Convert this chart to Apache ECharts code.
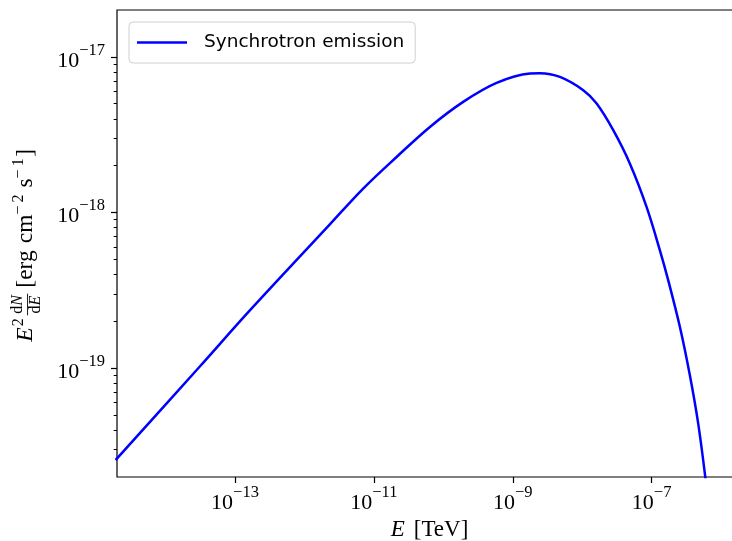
<!DOCTYPE html>
<html>
<head>
<meta charset="utf-8">
<script src="https://cdn.jsdelivr.net/npm/echarts@6/dist/echarts.min.js"></script>
<style>
html, body { margin: 0; padding: 0; background: #fff; }
#chart { width: 732px; height: 541px; }
</style>
</head>
<body>
<div id="chart"></div>
<script>
// photon energy [TeV]
const energy = [
  1.905e-15, 3.162e-14, 1.637e-13, 2.323e-12, 7.015e-12, 2.123e-11,
  6.412e-11, 1.932e-10, 5.848e-10, 1.766e-9, 2.460e-9, 4.775e-9,
  1.035e-8, 1.614e-8, 2.799e-8, 4.864e-8, 8.472e-8, 1.315e-7,
  1.734e-7, 2.553e-7, 3.556e-7, 4.688e-7, 6.053e-7
]
// E^2 dN/dE [erg cm^-2 s^-1]
const flux = [
  2.570e-20, 1.033e-19, 2.350e-19, 8.395e-19, 1.426e-18, 2.275e-18,
  3.548e-18, 5.140e-18, 6.808e-18, 7.816e-18, 7.852e-18, 7.430e-18,
  6.109e-18, 5.012e-18, 3.381e-18, 2.061e-18, 1.084e-18, 5.715e-19,
  3.664e-19, 1.837e-19, 8.970e-20, 4.385e-20, 1.841e-20
]
const xTicks = [1e-13, 1e-11, 1e-9, 1e-7]
const yTicks = [1e-19, 1e-18, 1e-17]
const yMinorTicks = [
  3e-20, 4e-20, 5e-20, 6e-20, 7e-20, 8e-20, 9e-20,
  2e-19, 3e-19, 4e-19, 5e-19, 6e-19, 7e-19, 8e-19, 9e-19,
  2e-18, 3e-18, 4e-18, 5e-18, 6e-18, 7e-18, 8e-18, 9e-18
]
const seriesName = 'Synchrotron emission'

const SERIF = 'Liberation Serif'
const powRich = {
  b: { fontFamily: SERIF, fontSize: 22, color: '#000', lineHeight: 30, verticalAlign: 'bottom' },
  s: { fontFamily: SERIF, fontSize: 16.5, color: '#000', lineHeight: 19, verticalAlign: 'top' }
}
const powLabel = v => {
  const e = Math.round(Math.log10(v))
  return '{b|10}{s|' + (e < 0 ? '\u2212' : '') + Math.abs(e) + '}'
}

// --- y axis title, laid out token by token and rotated ---
const meas = document.createElement('canvas').getContext('2d')
const tw = (t, size, italic) => {
  meas.font = (italic ? 'italic ' : '') + size + 'px "' + SERIF + '"'
  return meas.measureText(t).width
}
const tok = (t, x, rise, size, italic) => ({
  type: 'text', x: x, y: -rise - 0.3375 * size,
  style: {
    text: t, fontFamily: SERIF, fontSize: size,
    fontStyle: italic ? 'italic' : 'normal',
    fill: '#000', align: 'left', verticalAlign: 'middle'
  }
})

const M = 23.5, S = 16, F = 16
const parts = []
let cx = -98.3
parts.push(tok('E', cx, 0, M, true)); cx += tw('E', M, true) + 1
parts.push(tok('2', cx, 9, S)); cx += tw('2', S) + 3
const wN = tw('d', F) + tw('N', F, true)
const wD = tw('d', F) + tw('E', F, true)
const wF = Math.max(wN, wD) + 3
const fc = cx + wF / 2
parts.push(tok('d', fc - wN / 2, 10, F)); parts.push(tok('N', fc - wN / 2 + tw('d', F), 10, F, true))
parts.push(tok('d', fc - wD / 2, -8, F)); parts.push(tok('E', fc - wD / 2 + tw('d', F), -8, F, true))
parts.push({ type: 'line', shape: { x1: cx, y1: -5.75, x2: cx + wF, y2: -5.75 }, style: { stroke: '#000', lineWidth: 0.9 } })
cx += wF + 6
parts.push(tok('[erg', cx, 0, M)); cx += tw('[erg', M) + 7
parts.push(tok('cm', cx, 0, M)); cx += tw('cm', M)
parts.push(tok('\u2212', cx, 9, S)); cx += tw('\u2212', S) + 3
parts.push(tok('2', cx, 9, S)); cx += tw('2', S) + 7
parts.push(tok('s', cx, 0, M)); cx += tw('s', M)
parts.push(tok('\u2212', cx, 9, S)); cx += tw('\u2212', S) + 3
parts.push(tok('1', cx, 9, S)); cx += tw('1', S) + 1.5
parts.push(tok(']', cx, 0, M))

const yTitle = { type: 'group', x: 33.3, y: 243.4, rotation: Math.PI / 2, children: parts }

const data = energy.map((e, i) => [e, flux[i]])
const chart = echarts.init(document.getElementById('chart'))

chart.setOption({
  animation: false,
  backgroundColor: '#fff',
  grid: {
    left: 117, top: 10, right: -10, bottom: 64,
    show: true, borderColor: '#000', borderWidth: 1.2,
    backgroundColor: 'transparent',
    containLabel: false,
    outerBoundsMode: 'none'
  },
  legend: {
    left: 129, top: 22,
    padding: [11, 11, 11, 8],
    backgroundColor: '#fff',
    borderColor: '#d0d0d0',
    borderWidth: 1,
    borderRadius: 4,
    icon: 'rect',
    itemWidth: 50,
    itemHeight: 2.5,
    textStyle: {
      fontFamily: '"DejaVu Sans", sans-serif',
      fontSize: 18.5,
      color: '#000',
      padding: [0, 0, 0, 12]
    },
    data: [seriesName]
  },
  xAxis: {
    type: 'log',
    logBase: 10,
    min: 2e-15,
    max: 2e-6,
    name: '{i|E}{g| }{r|[TeV]}',
    nameLocation: 'middle',
    nameGap: 40,
    nameTextStyle: {
      rich: {
        i: { fontFamily: SERIF, fontStyle: 'italic', fontSize: 23, color: '#000' },
        g: { fontFamily: SERIF, fontSize: 23, width: 9 },
        r: { fontFamily: SERIF, fontSize: 23, color: '#000' }
      }
    },
    axisLine: { show: false },
    axisTick: { customValues: xTicks, length: 6, lineStyle: { color: '#000', width: 1.2 } },
    axisLabel: { customValues: xTicks, margin: 7, formatter: powLabel, rich: powRich },
    splitLine: { show: false },
    minorTick: { show: false }
  },
  yAxis: [
    {
      type: 'log',
      logBase: 10,
      min: 2e-20,
      max: 2e-17,
      axisLine: { show: false },
      axisTick: { customValues: yTicks, length: 6, lineStyle: { color: '#000', width: 1.2 } },
      axisLabel: { customValues: yTicks, margin: 12, formatter: powLabel, rich: powRich },
      splitLine: { show: false }
    },
    {
      type: 'log',
      logBase: 10,
      min: 2e-20,
      max: 2e-17,
      position: 'left',
      axisLine: { show: false },
      axisTick: { customValues: yMinorTicks, length: 3.3, lineStyle: { color: '#000', width: 1 } },
      axisLabel: { show: false },
      splitLine: { show: false }
    }
  ],
  graphic: [yTitle],
  series: [
    {
      name: seriesName,
      type: 'line',
      data: data,
      symbol: 'none',
      smooth: 0.35,
      lineStyle: { color: '#0000ff', width: 2.5 },
      itemStyle: { color: '#0000ff' }
    }
  ]
})
</script>
</body>
</html>
